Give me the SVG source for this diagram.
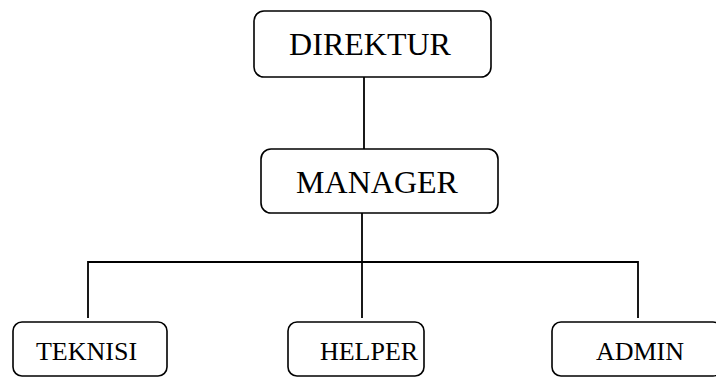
<svg xmlns="http://www.w3.org/2000/svg" width="716" height="378" viewBox="0 0 716 378">
<style>
.box{fill:#fff;stroke:#000;stroke-width:1.6}
.lbl{font-family:"Liberation Serif","Times New Roman",serif;fill:#000;text-anchor:middle}
.big{font-size:32px}
.sm{font-size:26px}
.ln{stroke:#000;stroke-width:1.8;fill:none}
</style>
<rect width="716" height="378" fill="#fff"/>
<g id="connectors">
<line class="ln" x1="364" y1="77" x2="364" y2="149"/>
<line class="ln" x1="362" y1="213" x2="362" y2="262"/>
<polyline class="ln" points="88,318 88,262 638,262 638,318"/>
<line class="ln" x1="362" y1="262" x2="362" y2="318"/>
</g>
<g id="direktur">
<rect class="box" x="254" y="11" width="237" height="66" rx="10"/>
<text class="lbl big" x="370" y="55">DIREKTUR</text>
</g>
<g id="manager">
<rect class="box" x="261" y="149" width="237" height="64" rx="10"/>
<text class="lbl big" x="377" y="193">MANAGER</text>
</g>
<g id="teknisi">
<rect class="box" x="13" y="322" width="154" height="54" rx="9"/>
<text class="lbl sm" x="86.5" y="360">TEKNISI</text>
</g>
<g id="helper">
<rect class="box" x="288" y="322" width="136" height="54" rx="9"/>
<text class="lbl sm" x="369" y="360">HELPER</text>
</g>
<g id="admin">
<rect class="box" x="552" y="322" width="170" height="54" rx="9"/>
<text class="lbl sm" x="640" y="360">ADMIN</text>
</g>
</svg>
